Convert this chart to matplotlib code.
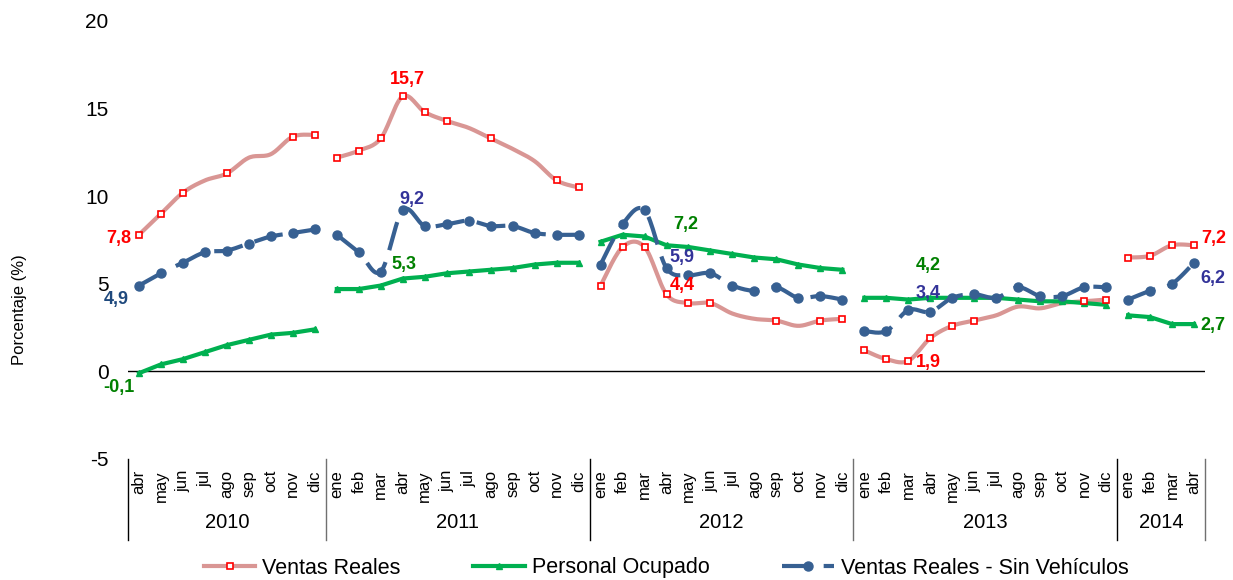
import numpy as np
import matplotlib
matplotlib.use("Agg")
import matplotlib.pyplot as plt
import matplotlib.transforms as mtransforms
from matplotlib.lines import Line2D

plt.rcParams['font.family'] = ['Liberation Sans', 'DejaVu Sans']
plt.rcParams['axes.unicode_minus'] = False

# ---- data -------------------------------------------------------------
years = ["2010", "2011", "2012", "2013", "2014"]
year_counts = [9, 12, 12, 12, 4]
all_months = ["ene", "feb", "mar", "abr", "may", "jun", "jul", "ago", "sep", "oct", "nov", "dic"]
months = all_months[3:] + all_months * 3 + all_months[:4]

ventas_reales = [7.8, 9.0, 10.2, 10.9, 11.3, 12.2, 12.4, 13.4, 13.5,
                 12.2, 12.6, 13.3, 15.7, 14.8, 14.3, 13.9, 13.3, 12.7, 12.0, 10.9, 10.5,
                 4.9, 7.1, 7.1, 4.4, 3.9, 3.9, 3.3, 3.0, 2.9, 2.6, 2.9, 3.0,
                 1.2, 0.7, 0.6, 1.9, 2.6, 2.9, 3.2, 3.7, 3.6, 3.9, 4.0, 4.1,
                 6.5, 6.6, 7.2, 7.2]
personal_ocupado = [-0.1, 0.4, 0.7, 1.1, 1.5, 1.8, 2.1, 2.2, 2.4,
                    4.7, 4.7, 4.9, 5.3, 5.4, 5.6, 5.7, 5.8, 5.9, 6.1, 6.2, 6.2,
                    7.4, 7.8, 7.7, 7.2, 7.1, 6.9, 6.7, 6.5, 6.4, 6.1, 5.9, 5.8,
                    4.2, 4.2, 4.1, 4.2, 4.2, 4.2, 4.2, 4.1, 4.0, 4.0, 3.9, 3.8,
                    3.2, 3.1, 2.7, 2.7]
sin_vehiculos = [4.9, 5.6, 6.2, 6.8, 6.9, 7.3, 7.7, 7.9, 8.1,
                 7.8, 6.8, 5.7, 9.2, 8.3, 8.4, 8.6, 8.3, 8.3, 7.9, 7.8, 7.8,
                 6.1, 8.4, 9.2, 5.9, 5.5, 5.6, 4.9, 4.6, 4.8, 4.2, 4.3, 4.1,
                 2.3, 2.3, 3.5, 3.4, 4.2, 4.4, 4.2, 4.8, 4.3, 4.3, 4.8, 4.8,
                 4.1, 4.6, 5.0, 6.2]

# points of the red series drawn without a marker (as in the original)
red_no_marker = [3, 5, 6, 15, 17, 18, 27, 28, 30, 39, 40, 41, 42]

RED_LINE = "#D99694"
GREEN = "#00B050"
BLUE = "#376092"


def smooth(xs, ys, n=16):
    P = np.column_stack([xs, ys]).astype(float)
    P = np.vstack([P[0], P, P[-1]])
    t = np.linspace(0, 1, n, endpoint=False)[:, None]
    out = []
    for i in range(1, len(P) - 2):
        p0, p1, p2, p3 = P[i - 1], P[i], P[i + 1], P[i + 2]
        out.append(0.5 * (2 * p1 + (-p0 + p2) * t + (2 * p0 - 5 * p1 + 4 * p2 - p3) * t ** 2
                          + (-p0 + 3 * p1 - 3 * p2 + p3) * t ** 3))
    out.append(P[-2][None])
    seg = np.vstack(out)
    return seg[:, 0], seg[:, 1]


fig = plt.figure(figsize=(12.33, 5.8), dpi=100)
ax = fig.add_axes([128 / 1233, 121 / 580, 1077 / 1233, 438 / 580])

x = np.arange(len(months))
bounds = np.concatenate([[0], np.cumsum(year_counts)])
for a, b in zip(bounds[:-1], bounds[1:]):
    xs = x[a:b]
    vr = np.array(ventas_reales[a:b])
    po = np.array(personal_ocupado[a:b])
    sv = np.array(sin_vehiculos[a:b])
    sx, sy = smooth(xs, vr)
    ax.plot(sx, sy, color=RED_LINE, lw=3, solid_capstyle='round', zorder=2)
    keep = [i for i in range(a, b) if i not in red_no_marker]
    ax.plot(x[keep], np.array(ventas_reales)[keep], ls='none', marker='s', ms=4.5,
            mfc='white', mec='red', mew=1.2, zorder=3)
    ax.plot(xs, po, color=GREEN, lw=3, marker='^', ms=5, mec=GREEN, zorder=2)
    sx, sy = smooth(xs, sv)
    ax.plot(sx, sy, color=BLUE, lw=3, ls=(0, (7, 3)), zorder=2)
    ax.plot(xs, sv, ls='none', marker='o', ms=6.5, color=BLUE, zorder=3)

ax.axhline(0, color='black', lw=1, zorder=1)
ax.set_xlim(-0.5, len(months) - 0.5)
ax.set_ylim(-5, 20)
ax.set_yticks([-5, 0, 5, 10, 15, 20])
ax.set_yticklabels(["-5", "0", "5", "10", "15", "20"])
ax.set_xticks(x)
ax.set_xticklabels(months, rotation=90, fontsize=12, va='top')
ax.tick_params(axis='x', length=0, pad=8)
ax.tick_params(axis='y', length=0, pad=14, labelsize=15)
for s in ax.spines.values():
    s.set_visible(False)

# year groups under the month labels
trans = mtransforms.blended_transform_factory(ax.transData, fig.transFigure)
for i, bnd in enumerate(bounds):
    col = 'black' if i in (0, 2, 4) else '#707070'
    ax.plot([bnd - 0.5, bnd - 0.5], [1 - 459 / 580, 1 - 540 / 580], color=col, lw=1,
            transform=trans, clip_on=False)
for yr, a, b in zip(years, bounds[:-1], bounds[1:]):
    ax.text((a + b - 1) / 2, 1 - 522 / 580, yr, transform=trans, ha='center', va='center',
            fontsize=14.5)

fig.text(20 / 1233, 1 - 310 / 580, "Porcentaje (%)", rotation=90, ha='center', va='center',
         fontsize=12)

# data labels (offsets in pixels)
labels = [
    (ventas_reales, 0, "7,8", "#FF0000", -8, -4, 'right'),
    (sin_vehiculos, 0, "4,9", "#1F497D", -10, -14, 'right'),
    (personal_ocupado, 0, "-0,1", "#008000", -4, -14, 'right'),
    (ventas_reales, 12, "15,7", "#FF0000", 5, 17, 'center'),
    (sin_vehiculos, 12, "9,2", "#333399", 9, 11, 'center'),
    (personal_ocupado, 12, "5,3", "#008000", 1, 14, 'center'),
    (personal_ocupado, 24, "7,2", "#008000", 19, 21, 'center'),
    (sin_vehiculos, 24, "5,9", "#333399", 15, 11, 'center'),
    (ventas_reales, 24, "4,4", "#FF0000", 16, 9, 'center'),
    (personal_ocupado, 36, "4,2", "#008000", -2, 32, 'center'),
    (sin_vehiculos, 36, "3,4", "#333399", -2, 18, 'center'),
    (ventas_reales, 36, "1,9", "#FF0000", -2, -24, 'center'),
    (ventas_reales, 48, "7,2", "#FF0000", 20, 7, 'center'),
    (sin_vehiculos, 48, "6,2", "#333399", 19, -16, 'center'),
    (personal_ocupado, 48, "2,7", "#008000", 19, -1, 'center'),
]
for series, idx, txt, col, dx, dy, ha in labels:
    ax.annotate(txt, (x[idx], series[idx]), xytext=(dx * 0.72, dy * 0.72),
                textcoords='offset points', ha=ha, va='center', color=col,
                fontsize=13, fontweight='bold', annotation_clip=False)

handles = [
    Line2D([], [], color=RED_LINE, lw=3, marker='s', ms=4.5, mfc='white', mec='red', mew=1.2),
    Line2D([], [], color=GREEN, lw=3, marker='^', ms=5, mec=GREEN),
    Line2D([], [], color=BLUE, lw=3, ls=(0, (7, 3)), marker='o', ms=6.5),
]
fig.legend(handles, ["Ventas Reales", "Personal Ocupado", "Ventas Reales - Sin Vehículos"],
           loc='center', bbox_to_anchor=(666 / 1233, 1 - 568 / 580), ncol=3, frameon=False,
           fontsize=15.5, handlelength=2.4, handletextpad=0.3, columnspacing=3.4,
           borderpad=0, borderaxespad=0)

fig.savefig("out.png", dpi=100)
